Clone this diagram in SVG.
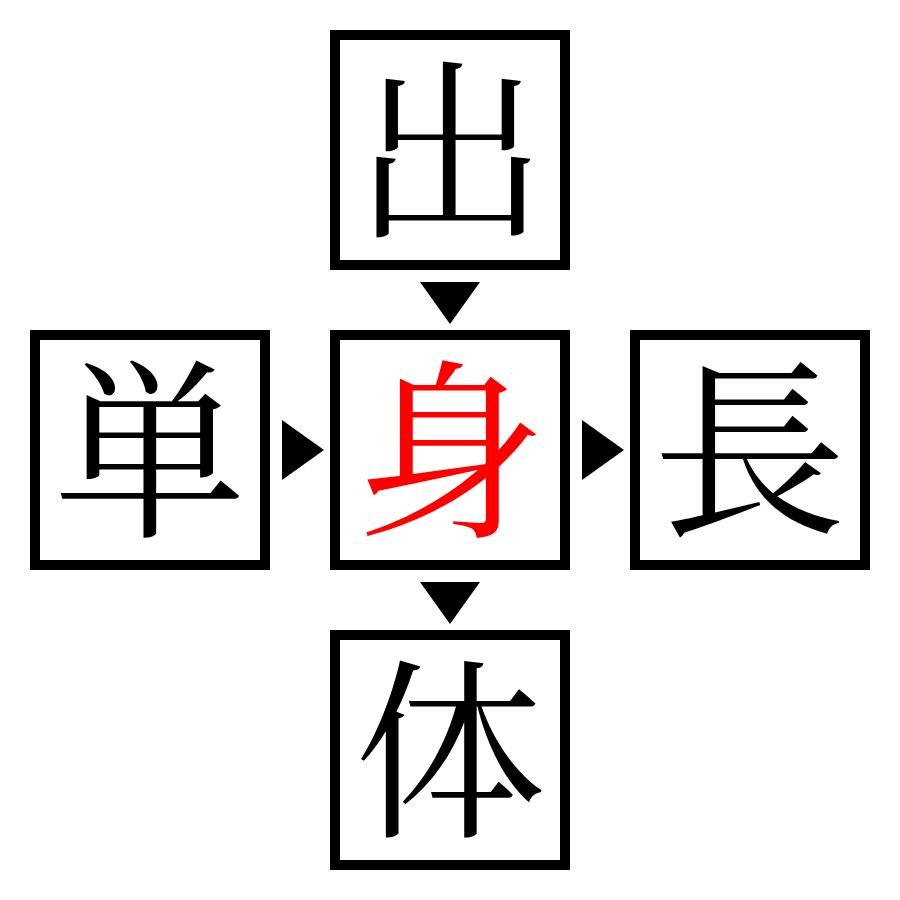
<svg xmlns="http://www.w3.org/2000/svg" width="900" height="900" viewBox="0 0 900 900">
<style>
.box{fill:#fff;stroke:#000;stroke-width:10}
.ch{font-family:"Noto Serif CJK JP","Noto Sans CJK JP",serif;font-size:192px;text-anchor:middle;dominant-baseline:central;fill:#000}
.red{fill:#ff0000}
.arr{fill:#000}
</style>
<rect width="900" height="900" fill="#fff"/>
<g id="top"><rect class="box" x="335" y="35" width="230" height="230"/><text class="ch" x="450" y="139">出</text></g>
<g id="left"><rect class="box" x="35" y="335" width="230" height="230"/><text class="ch" x="150" y="439">単</text></g>
<g id="center"><rect class="box" x="335" y="335" width="230" height="230"/><text class="ch red" x="450" y="439">身</text></g>
<g id="right"><rect class="box" x="635" y="335" width="230" height="230"/><text class="ch" x="750" y="439">長</text></g>
<g id="bottom"><rect class="box" x="335" y="635" width="230" height="230"/><text class="ch" x="450" y="739">体</text></g>
<g id="connectors">
<polygon class="arr" points="420,282 480,282 450,324"/>
<polygon class="arr" points="282,420 282,480 324,450"/>
<polygon class="arr" points="582,420 582,480 624,450"/>
<polygon class="arr" points="420,582 480,582 450,624"/>
</g>
</svg>
